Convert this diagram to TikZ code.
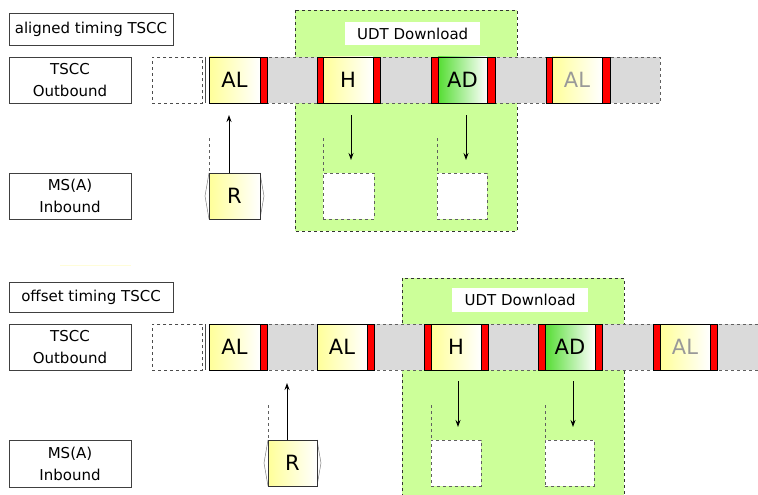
\documentclass[tikz,border=0pt]{standalone}
\usepackage{fontspec}
\setmainfont{DejaVu Sans}
\usetikzlibrary{arrows.meta}
\definecolor{lgreen}{HTML}{CCFF99}
\definecolor{lgray}{HTML}{DADADA}
\definecolor{yel}{HTML}{FFFF99}
\definecolor{grn}{HTML}{55DD33}
\definecolor{dgray}{HTML}{606060}
\tikzset{
  lbl/.style={draw=black!75, fill=white, align=center, inner sep=0pt, outer sep=0pt,
     font=\fontsize{15}{22}\selectfont, anchor=north west},
  cellbox/.style={draw=black, line width=0.8pt, inner sep=0pt, outer sep=0pt, anchor=north west,
     minimum height=46, font=\fontsize{21}{21}\selectfont},
  ycell/.style={cellbox, left color=yel, right color=white},
  gcell/.style={cellbox, left color=grn, right color=white},
  redbar/.style={draw=black, line width=0.5pt, fill=red, inner sep=0pt, outer sep=0pt, anchor=north west,
     minimum height=46, minimum width=7},
  greenzone/.style={fill=lgreen, draw=black!80, dashed, line width=0.6pt},
  udt/.style={fill=white, inner sep=0pt, anchor=north west, font=\fontsize{15}{15}\selectfont},
  emptybox/.style={draw=dgray, dashed, line width=0.9pt, fill=white, inner sep=0pt, outer sep=0pt,
     anchor=north west, minimum width=50, minimum height=46},
  guide/.style={draw=dgray, dashed, line width=0.8pt},
  arr/.style={-{Stealth[length=7pt,width=5pt]}, line width=1pt},
  band/.style={fill=lgray},
  bandedge/.style={draw=dgray, dashed, line width=0.7pt},
}
\begin{document}
\begin{tikzpicture}[x=1pt,y=-1pt]
\useasboundingbox (0,0) rectangle (758,495);
\fill[white] (0,0) rectangle (758,495);

% ================= TOP: aligned timing =================
\node[lbl, minimum width=164, minimum height=32] (t1) at (9,13) {aligned timing TSCC};
\node[lbl, minimum width=122, minimum height=46] (o1) at (9,57) {TSCC\\Outbound};
\node[lbl, minimum width=122, minimum height=46] (m1) at (9,173) {MS(A)\\Inbound};

% green UDT zone
\draw[greenzone] (295,10) rectangle (517,231);
\node[udt, minimum width=135, minimum height=23] (u1) at (345,22) {UDT Download};

% row band
\node[draw=black!70, dashed, line width=0.7pt, fill=white, inner sep=0pt, anchor=north west,
      minimum width=50, minimum height=46] (d1) at (152,57) {};
\draw[draw=black!70, line width=0.7pt] (205,57) -- (205,103);
\fill[band] (209,57) rectangle (660,103);
\draw[bandedge] (209,57) -- (660,57) -- (660,103) -- (209,103);

\node[ycell, minimum width=51] (a1) at (209,57) {AL};
\node[redbar] (r1a) at (260,57) {};
\node[redbar, minimum width=6] (r1b) at (317,57) {};
\node[ycell, minimum width=50] (h1) at (323,57) {H};
\node[redbar] (r1c) at (373,57) {};
\node[redbar] (r1d) at (431,57) {};
\node[gcell, minimum width=49] (ad1) at (438,57) {AD};
\node[redbar, minimum width=8] (r1e) at (487,57) {};
\node[redbar, minimum width=6] (r1f) at (546,57) {};
\node[ycell, minimum width=50, text=black!40] (al1) at (552,57) {AL};
\node[redbar, minimum width=8] (r1g) at (602,57) {};

% inbound
\draw[line width=0.5pt, draw=black!50] (209,173) -- (205,196) -- (209,219);
\draw[line width=0.5pt, draw=black!50] (260,173) -- (264,196) -- (260,219);
\node[ycell, minimum width=51, line width=0.6pt, draw=black!80] (R1) at (209,173) {R};
\draw[guide] (209,138) -- (R1.north west);
\coordinate (R1top) at (229,173);
\coordinate (R1tip) at (229,115);
\draw[arr] (R1top) -- (R1tip);

\node[emptybox, minimum width=51] (e1) at (323,173) {};
\node[emptybox] (e2) at (437,173) {};
\draw[guide] (323,138) -- (e1.north west);
\draw[guide] (437,138) -- (e2.north west);
\coordinate (h1s) at (351,115);
\coordinate (h1e) at (351,160);
\coordinate (ad1s) at (466,115);
\coordinate (ad1e) at (466,160);
\draw[arr] (h1s) -- (h1e);
\draw[arr] (ad1s) -- (ad1e);

% faint line
\draw[draw=yellow!15, line width=1pt] (60,265) -- (131,265);

% ================= BOTTOM: offset timing =================
\node[lbl, minimum width=164, minimum height=30] (t2) at (9,282) {offset timing TSCC};
\node[lbl, minimum width=122, minimum height=46] (o2) at (9,324) {TSCC\\Outbound};
\node[lbl, minimum width=122, minimum height=47] (m2) at (9,440) {MS(A)\\Inbound};

\fill[lgreen] (402.3,278.3) rectangle (623.7,497);
\draw[greenzone, fill=none] (402,497) -- (402,278) -- (624,278) -- (624,497);
\node[udt, minimum width=136, minimum height=24] (u2) at (452,288) {UDT Download};

\node[draw=black!70, dashed, line width=0.7pt, fill=white, inner sep=0pt, anchor=north west,
      minimum width=50, minimum height=46] (d2) at (152,324) {};
\draw[draw=black!70, line width=0.7pt] (205,324) -- (205,370);
\fill[band] (209,324) rectangle (760,370);
\draw[bandedge] (209,324) -- (760,324);
\draw[bandedge] (209,370) -- (760,370);

\node[ycell, minimum width=51] (a2) at (209,324) {AL};
\node[redbar] (r2a) at (260,324) {};
\node[ycell, minimum width=50] (a3) at (317,324) {AL};
\node[redbar] (r2b) at (367,324) {};
\node[redbar] (r2c) at (424,324) {};
\node[ycell, minimum width=50] (h2) at (431,324) {H};
\node[redbar] (r2d) at (481,324) {};
\node[redbar] (r2e) at (538,324) {};
\node[gcell, minimum width=50] (ad2) at (545,324) {AD};
\node[redbar] (r2f) at (595,324) {};
\node[redbar] (r2g) at (653,324) {};
\node[ycell, minimum width=50, text=black!40] (al2) at (660,324) {AL};
\node[redbar] (r2h) at (710,324) {};

\draw[line width=0.5pt, draw=black!50] (268,440) -- (264,463) -- (268,486);
\draw[line width=0.5pt, draw=black!50] (317,440) -- (321,463) -- (317,486);
\node[ycell, minimum width=49, line width=0.6pt, draw=black!80] (R2) at (268,440) {R};
\draw[guide] (268,405) -- (R2.north west);
\coordinate (R2top) at (287,440);
\coordinate (R2tip) at (287,383);
\draw[arr] (R2top) -- (R2tip);

\node[emptybox] (e3) at (431,440) {};
\node[emptybox, minimum width=49] (e4) at (545,440) {};
\draw[guide] (431,405) -- (e3.north west);
\draw[guide] (545,405) -- (e4.north west);
\coordinate (h2s) at (458,381);
\coordinate (h2e) at (458,427);
\coordinate (ad2s) at (573,381);
\coordinate (ad2e) at (573,427);
\draw[arr] (h2s) -- (h2e);
\draw[arr] (ad2s) -- (ad2e);
\end{tikzpicture}
\end{document}
